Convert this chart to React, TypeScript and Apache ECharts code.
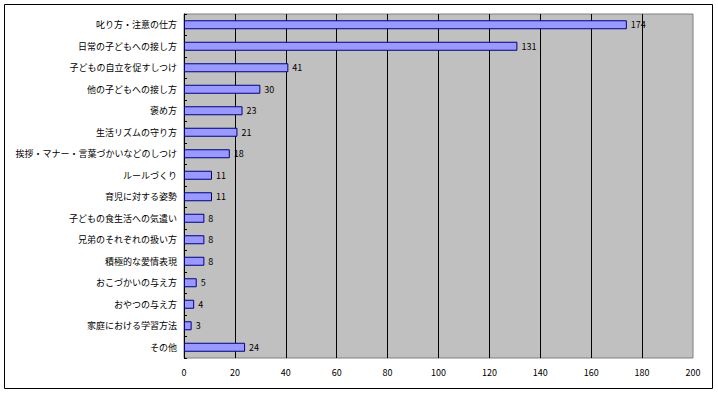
import React, { useEffect, useRef } from "react";
import * as echarts from "echarts";

const categories = [
  "叱り方・注意の仕方",
  "日常の子どもへの接し方",
  "子どもの自立を促すしつけ",
  "他の子どもへの接し方",
  "褒め方",
  "生活リズムの守り方",
  "挨拶・マナー・言葉づかいなどのしつけ",
  "ルールづくり",
  "育児に対する姿勢",
  "子どもの食生活への気遣い",
  "兄弟のそれぞれの扱い方",
  "積極的な愛情表現",
  "おこづかいの与え方",
  "おやつの与え方",
  "家庭における学習方法",
  "その他",
];
const values = [174, 131, 41, 30, 23, 21, 18, 11, 11, 8, 8, 8, 5, 4, 3, 24];

const FONT = "'Noto Sans CJK JP', 'Noto Sans', sans-serif";

export default function App() {
  const ref = useRef<HTMLDivElement>(null);
  useEffect(() => {
    if (!ref.current) return;
    const chart = echarts.init(ref.current, undefined, { renderer: "svg" });
    chart.setOption({
      animation: false,
      backgroundColor: "#ffffff",
      textStyle: { fontFamily: FONT },
      graphic: [
        {
          type: "rect",
          shape: { x: 4.5, y: 4.5, width: 708, height: 384 },
          style: { fill: "none", stroke: "#000", lineWidth: 1 },
          silent: true,
        },
      ],
      grid: {
        left: 184,
        top: 14,
        width: 509,
        height: 344,
        show: true,
        backgroundColor: "#C0C0C0",
        borderColor: "#808080",
        borderWidth: 1,
      },
      xAxis: {
        type: "value",
        min: 0,
        max: 200,
        interval: 20,
        axisLine: { show: false },
        axisTick: { show: false },
        axisLabel: { color: "#000", fontSize: 9, margin: 10, fontFamily: FONT },
        splitLine: {
          show: true,
          showMinLine: false,
          showMaxLine: false,
          lineStyle: { color: "#000", width: 1 },
        },
      },
      yAxis: {
        type: "category",
        data: categories,
        inverse: true,
        axisLine: { show: true, lineStyle: { color: "#000", width: 1 } },
        axisTick: { show: true, inside: true, length: 3, lineStyle: { color: "#000" } },
        axisLabel: { color: "#000", fontSize: 9, margin: 7, fontFamily: FONT },
        splitLine: { show: false },
      },
      series: [
        {
          type: "bar",
          data: values,
          barWidth: 9,
          itemStyle: { color: "#9999FF", borderColor: "#000080", borderWidth: 1 },
          label: {
            show: true,
            position: "right",
            distance: 4,
            color: "#000",
            fontSize: 9,
            fontFamily: FONT,
          },
        },
      ],
    });
    return () => chart.dispose();
  }, []);
  return (
    <div
      ref={ref}
      style={{ position: "fixed", left: 0, top: 0, width: 718, height: 394 }}
    />
  );
}
